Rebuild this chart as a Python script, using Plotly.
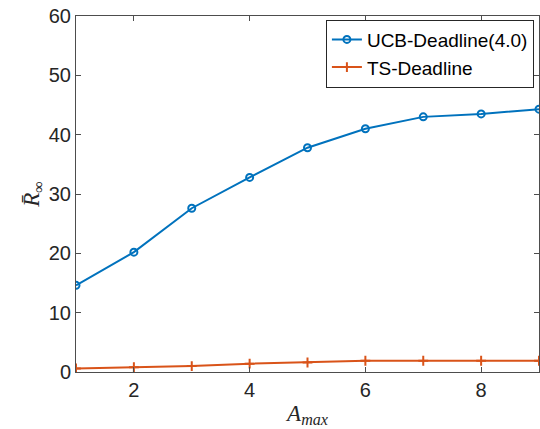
import plotly.graph_objects as go

a_max = [1, 2, 3, 4, 5, 6, 7, 8, 9]
ucb_deadline = [14.6, 20.2, 27.6, 32.8, 37.8, 41.0, 43.0, 43.5, 44.3]
ts_deadline = [0.6, 0.8, 1.0, 1.4, 1.6, 1.9, 1.9, 1.9, 1.9]

blue = "#0072BD"
orange = "#D95319"

fig = go.Figure()
fig.add_trace(go.Scatter(
    x=a_max, y=ucb_deadline, mode="lines+markers", name="UCB-Deadline(4.0)",
    line=dict(color=blue, width=2),
    marker=dict(symbol="circle-open", size=7, color=blue, line=dict(width=2, color=blue)),
))
fig.add_trace(go.Scatter(
    x=a_max, y=ts_deadline, mode="lines+markers", name="TS-Deadline",
    line=dict(color=orange, width=2),
    marker=dict(symbol="cross-thin-open", size=7, color=orange, line=dict(width=2, color=orange)),
))

axis_common = dict(
    showgrid=False, zeroline=False, showline=True, linecolor="#4d4d4d", linewidth=1,
    mirror="ticks", ticks="inside", ticklen=5, tickcolor="#4d4d4d",
    tickfont=dict(family="Liberation Sans, Arial, sans-serif", size=20, color="#262626"),
)

fig.update_layout(
    width=540, height=429,
    margin=dict(l=76, r=1, t=16, b=57),
    paper_bgcolor="white", plot_bgcolor="white",
    showlegend=True,
    legend=dict(
        x=0.989, y=0.99, xanchor="right", yanchor="top",
        bgcolor="white", bordercolor="#262626", borderwidth=1,
        font=dict(family="Liberation Sans, Arial, sans-serif", size=19, color="black"),
        tracegroupgap=0, itemwidth=30,
    ),
    xaxis=dict(range=[1, 9], tickvals=[2, 4, 6, 8], **axis_common,
               title=dict(text="<i>A</i><sub><i>max</i></sub>", standoff=4,
                          font=dict(family="Liberation Serif, Times New Roman, serif", size=23, color="#262626"))),
    yaxis=dict(range=[0, 60], tickvals=[0, 10, 20, 30, 40, 50, 60], **axis_common,
               title=dict(text="<i>R̄</i><sub>∞</sub>", standoff=2,
                          font=dict(family="Liberation Serif, Times New Roman, serif", size=23, color="#262626"))),
)

fig.write_html("out.html")
